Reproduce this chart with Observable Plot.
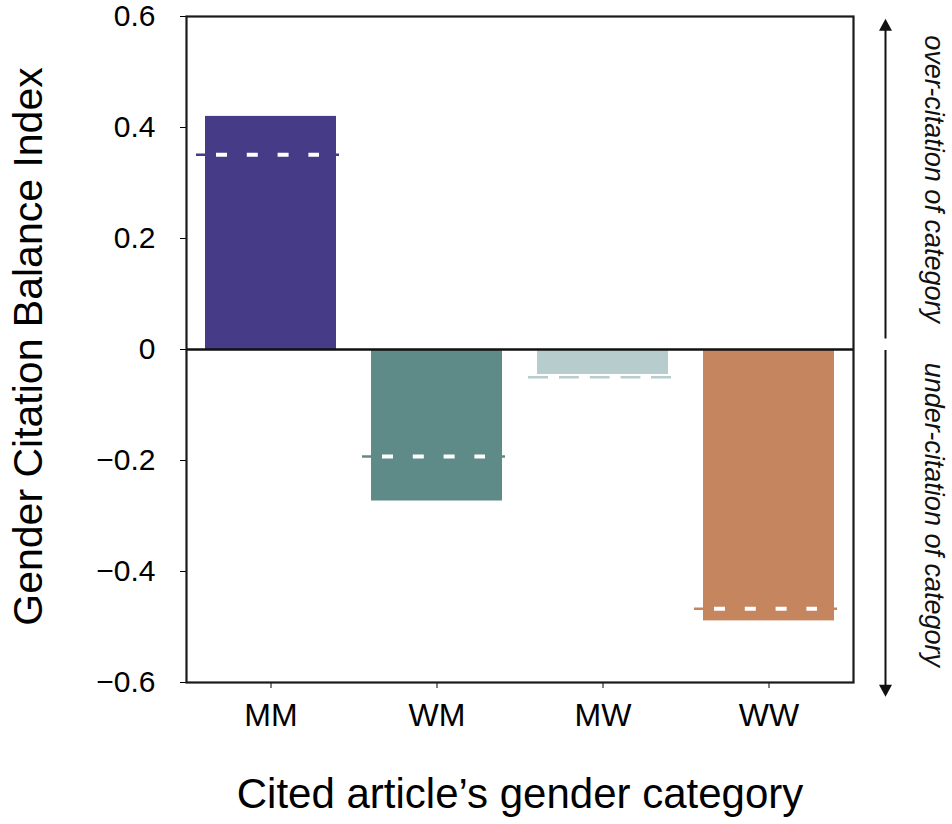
<!DOCTYPE html>
<html>
<head>
<meta charset="utf-8">
<script src="https://cdn.jsdelivr.net/npm/d3@7"></script>
<script src="https://cdn.jsdelivr.net/npm/@observablehq/plot@0.6"></script>
<style>
  html, body { margin: 0; padding: 0; background: #fff; }
  #chart svg { display: block; }
  #chart svg g[aria-label^="x-axis"] text { font-size: 32px !important; }
  #chart svg g[aria-label^="y-axis"] text { font-size: 30px !important; }
</style>
</head>
<body>
<div id="chart"></div>
<script>
// ---- data ----
const categories = ["MM", "WM", "MW", "WW"];
const gcbi = [0.42, -0.273, -0.045, -0.489];        // bar values
const expectedGcbi = [0.351, -0.193, -0.05, -0.467]; // dashed reference values
const barColors = ["#453b87", "#5e8b88", "#b7cccd", "#c4855f"];
const yTicks = [0.6, 0.4, 0.2, 0, -0.2, -0.4, -0.6];
const xTitle = "Cited article\u2019s gender category";
const yTitle = "Gender Citation Balance Index";
const overLabel = "over-citation of category";
const underLabel = "under-citation of category";

const data = categories.map((c, i) => ({cat: c, value: gcbi[i], expected: expectedGcbi[i]}));

const fmt = d3.format(".1f");
const triUp = {draw(ctx) { ctx.moveTo(0, -6); ctx.lineTo(6.5, 6); ctx.lineTo(-6.5, 6); ctx.closePath(); }};
const triDown = {draw(ctx) { ctx.moveTo(0, 6); ctx.lineTo(6.5, -6); ctx.lineTo(-6.5, -6); ctx.closePath(); }};

const sideDx = 116.5;
const textDx = 165;

const chart = Plot.plot({
  width: 952,
  height: 824,
  marginLeft: 186,
  marginRight: 99,
  marginTop: 16,
  marginBottom: 142,
  style: {fontFamily: "'Liberation Sans', Arial, Helvetica, sans-serif", fontSize: "30px", color: "#000", background: "#fff"},
  x: {domain: categories, paddingInner: 0.21, paddingOuter: 0.105, label: null, tickSize: 6, tickPadding: 15},
  y: {domain: [-0.6, 0.6], ticks: yTicks, tickFormat: d => d === 0 ? "0" : fmt(d), label: null, tickSize: 6, tickPadding: 25},
  color: {domain: categories, range: barColors},
  marks: [
    Plot.barY(data, {x: "cat", y: "value", fill: "cat"}),
    Plot.tickY(data, {x: "cat", y: "expected", stroke: "cat", strokeWidth: 2.5, insetLeft: -9, insetRight: -3}),
    Plot.tickY(data, {x: "cat", y: "expected", stroke: "white", strokeWidth: 4, strokeDasharray: "11,19.8", insetLeft: 11, insetRight: 17}),
    Plot.ruleY([0], {stroke: "#111", strokeWidth: 2.5}),
    Plot.frame({stroke: "#1a1a1a", strokeWidth: 2.2}),
    // side arrows
    Plot.ruleX(["WW"], {x: d => d, y1: 0.585, y2: 0.019, dx: sideDx, stroke: "#111", strokeWidth: 2}),
    Plot.ruleX(["WW"], {x: d => d, y1: -0.002, y2: -0.615, dx: sideDx, stroke: "#111", strokeWidth: 2}),
    Plot.dot(["WW"], {x: d => d, y: 0.585, dx: sideDx, symbol: triUp, r: 6, fill: "#111", stroke: null}),
    Plot.dot(["WW"], {x: d => d, y: -0.615, dx: sideDx, symbol: triDown, r: 6, fill: "#111", stroke: null}),
    Plot.text([overLabel], {x: () => "WW", y: 0.307, dx: textDx, text: d => d, rotate: 90, fontSize: 27, fontStyle: "italic", fill: "#111"}),
    Plot.text([underLabel], {x: () => "WW", y: -0.298, dx: textDx, text: d => d, rotate: 90, fontSize: 27, fontStyle: "italic", fill: "#111"}),
    // axis titles
    Plot.text([xTitle], {frameAnchor: "bottom", dy: 125, text: d => d, fontSize: 42, fill: "#000"}),
    Plot.text([yTitle], {frameAnchor: "left", textAnchor: "middle", dx: -158, dy: -3, text: d => d, rotate: -90, fontSize: 41, fill: "#000"})
  ]
});
document.getElementById("chart").appendChild(chart);
</script>
</body>
</html>
